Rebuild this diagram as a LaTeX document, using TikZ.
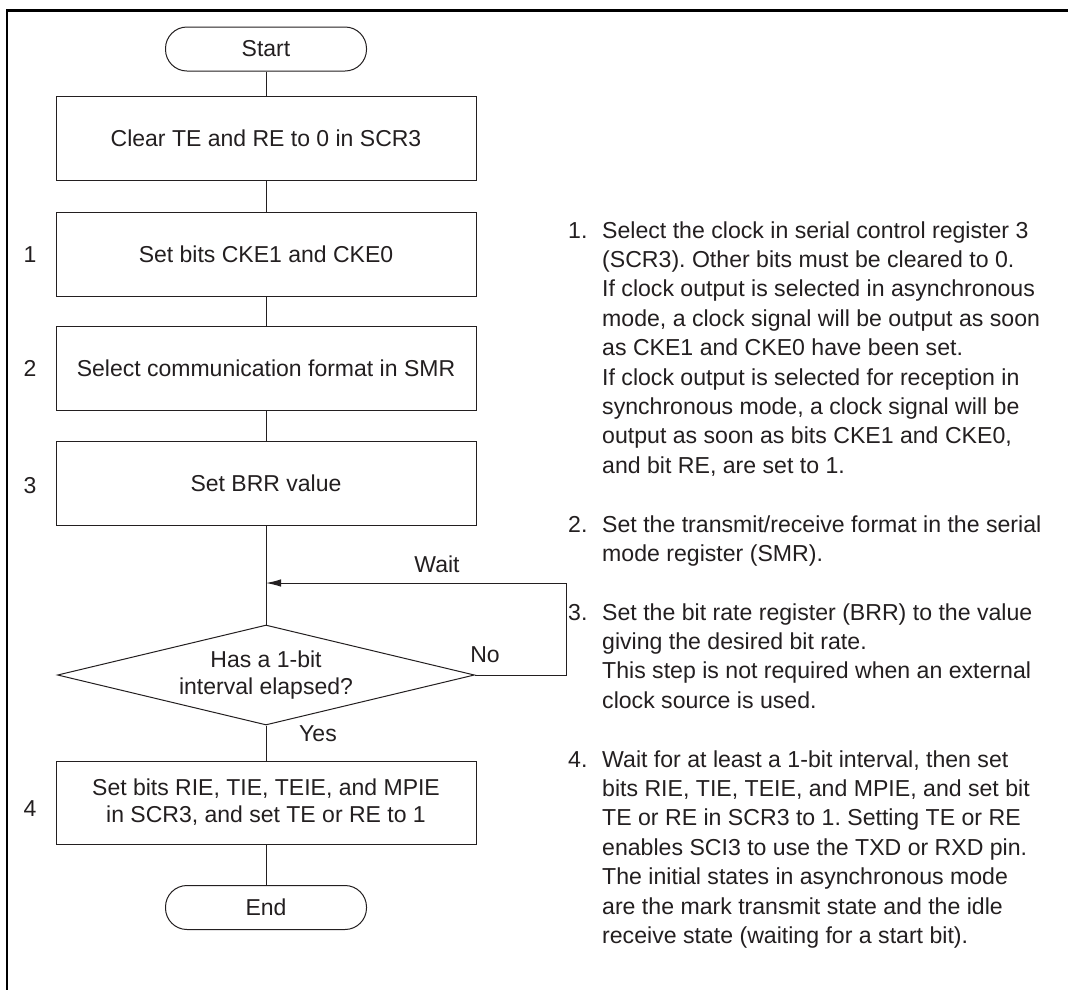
\documentclass[tikz,border=0pt]{standalone}
\usepackage{fontspec}
\setmainfont{Liberation Sans}
\usetikzlibrary{shapes.geometric,arrows.meta}
\definecolor{ink}{HTML}{231F20}
\frenchspacing
\begin{document}
\begin{tikzpicture}[x=1pt,y=-1pt,
  every node/.style={text=ink, font=\fontsize{23}{27}\selectfont},
  boxline/.style={draw=ink, line width=1pt},
  proc/.style={boxline, rectangle, minimum width=420pt, minimum height=84pt, inner sep=0pt, align=center},
  term/.style={boxline, rectangle, rounded corners=21.5pt, minimum width=201pt, minimum height=44pt, inner sep=0pt},
  decide/.style={boxline, diamond, aspect=4.17, minimum width=417pt, minimum height=100pt, inner sep=0pt, align=center},
  steplabel/.style={inner sep=0pt},
  note/.style={inner sep=0pt, anchor=base west, align=left, font=\fontsize{23.1}{29.4}\selectfont},
  conn/.style={draw=ink, line width=1pt}
]
\useasboundingbox (0,0) rectangle (1068,989);
\fill[white] (0,0) rectangle (1068,989);
% frame
\draw[black, line width=2.6pt] (7,995) -- (7,10.3) -- (1075,10.3);

% flowchart
\node[term] (start) at (266,49) {Start};
\node[proc] (b0) at (266,138) {Clear TE and RE to 0 in SCR3};
\node[proc] (b1) at (266,254) {Set bits CKE1 and CKE0};
\node[proc] (b2) at (266,368) {Select communication format in SMR};
\node[proc] (b3) at (266,483) {Set BRR value};
\node[decide] (dia) at (266,675) {Has a 1-bit\\interval elapsed?};
\node[proc, minimum height=83pt] (b4) at (266,802.5) {Set bits RIE, TIE, TEIE, and MPIE\\in SCR3, and set TE or RE to 1};
\node[term] (end) at (266,907.5) {End};

\node[steplabel] (l1) at (30,255) {1};
\node[steplabel] (l2) at (30,368) {2};
\node[steplabel] (l3) at (30,486) {3};
\node[steplabel] (l4) at (30,809) {4};

\draw[conn] (start) -- (b0);
\draw[conn] (b0) -- (b1);
\draw[conn] (b1) -- (b2);
\draw[conn] (b2) -- (b3);
\draw[conn] (b3) -- (dia);
\draw[conn] (dia) -- (b4);
\draw[conn] (b4) -- (end);

\coordinate (loopR) at (566,583);
\coordinate (join) at (266,583);
\draw[conn, -{Latex[length=15pt,width=7.5pt]}] (dia.east) -| (loopR) -- (join);

\node[inner sep=0pt] (wait) at (437,564) {Wait};
\node[inner sep=0pt] (no) at (485,655) {No};
\node[inner sep=0pt] (yes) at (318,734) {Yes};

% notes (base anchor = baseline of the last line)
\node[note] (n1) at (568,238) {1.};
\node[note] (t1) at (602,473.2) {Select the clock in serial control register 3\\
(SCR3). Other bits must be cleared to 0.\\
If clock output is selected in asynchronous\\
mode, a clock signal will be output as soon\\
as CKE1 and CKE0 have been set.\\
If clock output is selected for reception in\\
synchronous mode, a clock signal will be\\
output as soon as bits CKE1 and CKE0,\\
and bit RE, are set to 1.};

\node[note] (n2) at (568,532) {2.};
\node[note] (t2) at (602,561.4) {Set the transmit/receive format in the serial\\
mode register (SMR).};

\node[note] (n3) at (568,620) {3.};
\node[note] (t3) at (602,708.2) {Set the bit rate register (BRR) to the value\\
giving the desired bit rate.\\
This step is not required when an external\\
clock source is used.};

\node[note] (n4) at (568,767) {4.};
\node[note] (t4) at (602,943.4) {Wait for at least a 1-bit interval, then set\\
bits RIE, TIE, TEIE, and MPIE, and set bit\\
TE or RE in SCR3 to 1. Setting TE or RE\\
enables SCI3 to use the TXD or RXD pin.\\
The initial states in asynchronous mode\\
are the mark transmit state and the idle\\
receive state (waiting for a start bit).};
\end{tikzpicture}
\end{document}
